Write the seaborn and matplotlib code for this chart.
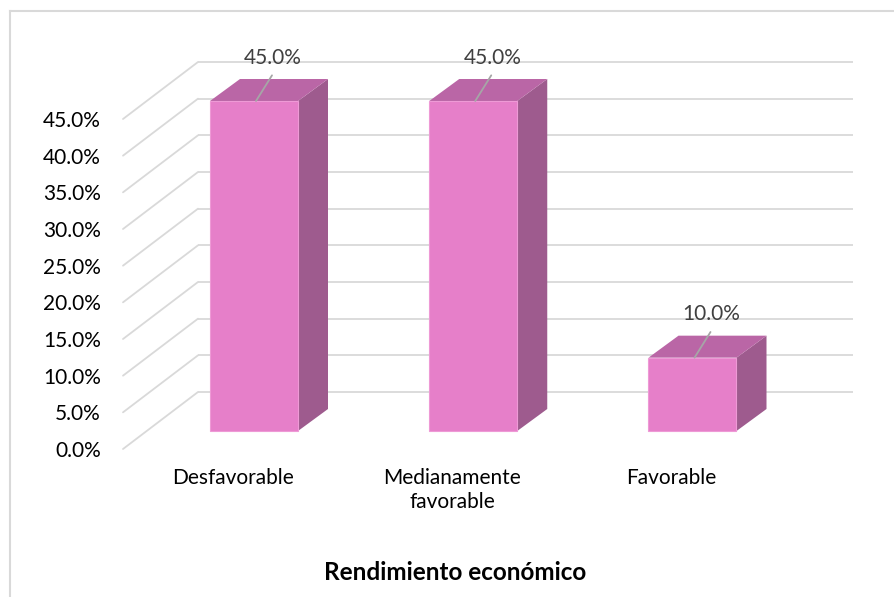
import matplotlib.pyplot as plt
import seaborn as sns
from matplotlib.patches import Polygon

categories = ["Desfavorable", "Medianamente\nfavorable", "Favorable"]
values = [45.0, 45.0, 10.0]
ticks = [0, 5, 10, 15, 20, 25, 30, 35, 40, 45]
xlabel = "Rendimiento económico"

# pixel geometry of the reference (front plane of the bars)
W, H = 895, 597
X0, Y0 = 254, 431          # pixel of category 0 / value 0
PX, PY = 219.25, 330 / 45  # pixels per category / per percent


def dx(p):
    return p / PX


def dy(p):
    return p / PY


FRONT = "#E67FC9"
TOP = "#BA66A6"
SIDE = "#9E5B8E"
GRID = "#D9D9D9"
TEXT = "#404040"

sns.set_theme(style="white")
plt.rcParams["font.family"] = ["Lato", "DejaVu Sans"]

fig = plt.figure(figsize=(W / 100, H / 100), dpi=100)
ax = fig.add_axes([10 / W, 0, (W - 10) / W, (H - 11) / H])

# back wall and floor offsets
wall_dx, wall_dy = dx(51), dy(39)
floor_dx, floor_dy = dx(-24), dy(-18)
back_left, back_right = dx(198 - X0), dx(853 - X0)
front_left = dx(123 - X0)

for t in ticks:
    ax.plot([back_left, back_right], [t + wall_dy, t + wall_dy],
            color=GRID, lw=1.3, zorder=1, solid_capstyle="butt")
    ax.plot([front_left, back_left], [t + floor_dy, t + wall_dy],
            color=GRID, lw=1.3, zorder=1)
    ax.text(dx(101 - X0), t + floor_dy - dy(2), "{:.1f}%".format(t),
            ha="right", va="center", fontsize=15, color="black")

sns.barplot(x=list(range(len(values))), y=values, ax=ax, color=FRONT,
            saturation=1, width=dx(88), edgecolor="#EE9AD6", linewidth=0.8,
            zorder=3)

ddx, ddy = dx(30), dy(22)
for bar, v, cat in zip(ax.patches, values, categories):
    x0 = bar.get_x()
    x1 = x0 + bar.get_width()
    cx = x0 + bar.get_width() / 2
    ax.add_patch(Polygon([(x1, 0), (x1 + ddx, ddy), (x1 + ddx, v + ddy), (x1, v)],
                         closed=True, facecolor=SIDE, edgecolor="none", zorder=2.5))
    ax.add_patch(Polygon([(x0, v), (x1, v), (x1 + ddx, v + ddy), (x0 + ddx, v + ddy)],
                         closed=True, facecolor=TOP, edgecolor="none", zorder=2.5))
    # data label with leader line
    ax.plot([cx + dx(2), cx + dx(18)], [v, v + 3.5], color="#A6A6A6", lw=1.3, zorder=4)
    ax.text(cx + dx(19), v + 5.9, "{:.1f}%".format(v), ha="center", va="center",
            fontsize=15, color=TEXT, zorder=5)
    ax.text(cx + dx(-21), dy(-37), cat, ha="center", va="top", fontsize=15,
            color="black", linespacing=1.25)

ax.text(dx(455 - X0), dy(431 - 573), xlabel, ha="center", va="center",
        fontsize=17.5, fontweight="bold", color="black")

ax.set_xlim(dx(10 - X0), dx(W - X0))
ax.set_ylim(dy(Y0 - H), dy(Y0 - 11))
ax.set_xticks([])
ax.set_yticks([])
ax.set_xlabel("")
ax.set_ylabel("")
for side in ["right", "bottom"]:
    ax.spines[side].set_visible(False)
for side in ["left", "top"]:
    ax.spines[side].set_color(GRID)
    ax.spines[side].set_linewidth(1.5)

fig.savefig("out.png", dpi=100)
